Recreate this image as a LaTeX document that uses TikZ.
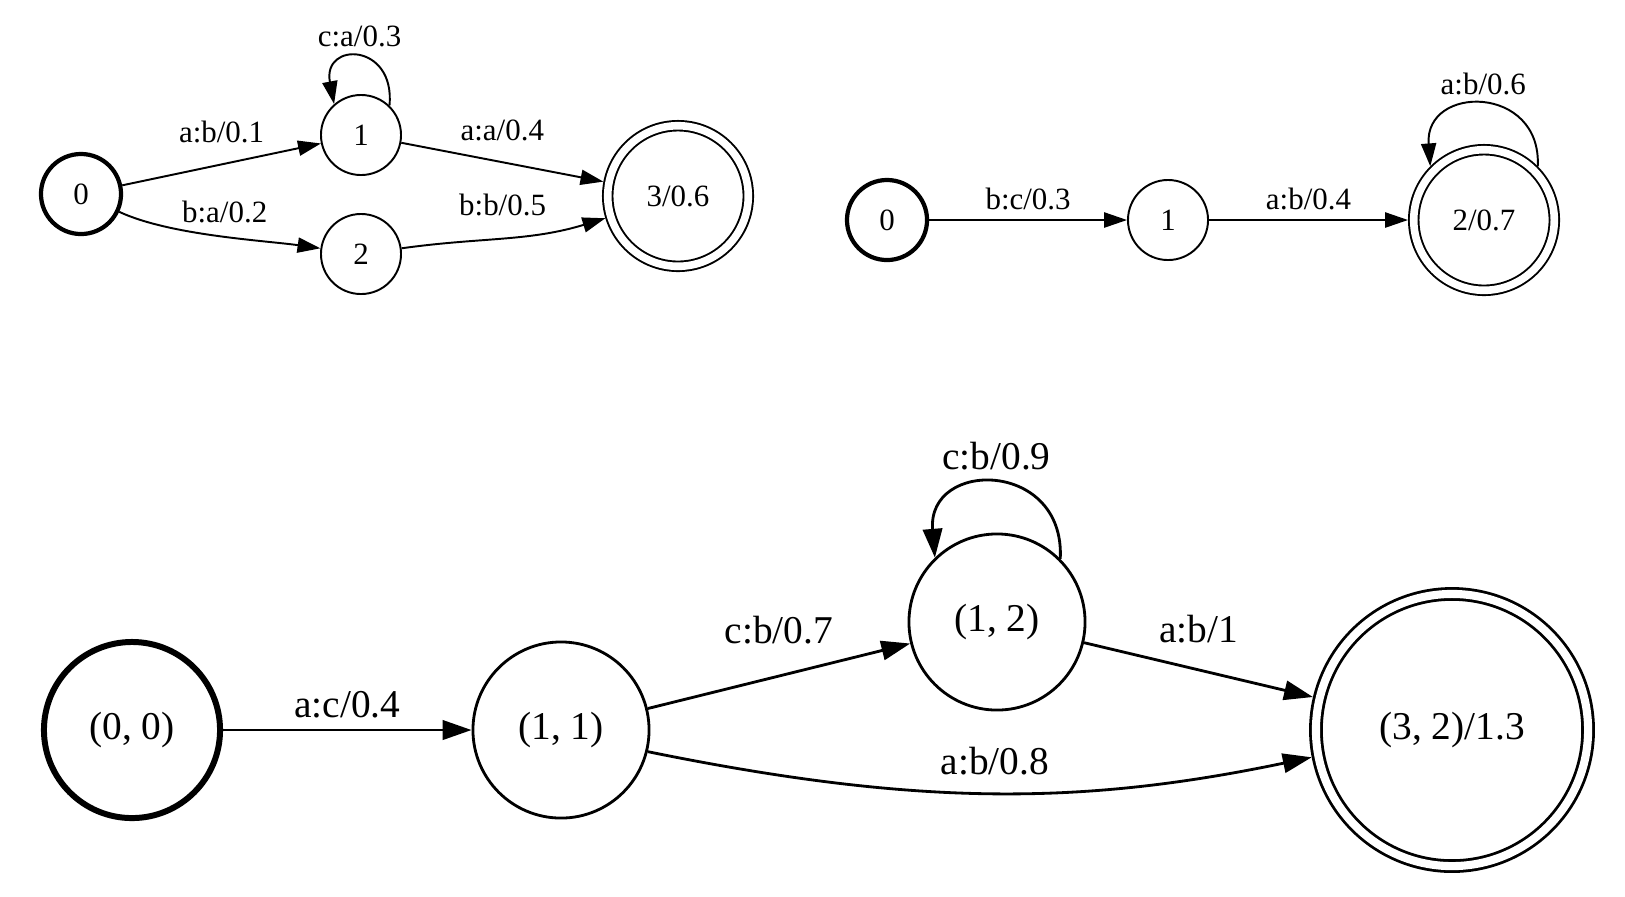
\documentclass[tikz,border=0pt]{standalone}
\usepackage{fontspec}
\setmainfont{Liberation Serif}
\usetikzlibrary{arrows.meta}

\begin{document}
\begin{tikzpicture}[x=0.01cm, y=0.01cm,
    q/.style={draw, circle, line width=0.55pt, minimum size=0.8cm, inner sep=0pt, font=\fontsize{8.8}{10}\selectfont},
    qinit/.style={q, line width=1.2pt},
    qfin/.style={q, double, double distance=0.076cm, outer sep=0.057cm, minimum size=1.405cm},
    arr/.style={-{Triangle[length=6.5pt, width=4.3pt]}, line width=0.55pt},
    lbl/.style={font=\fontsize{8.8}{10}\selectfont, inner sep=0pt},
    bq/.style={draw, circle, line width=0.8pt, minimum size=1.76cm, inner sep=0pt, font=\fontsize{11.2}{13}\selectfont},
    bqinit/.style={bq, line width=1.7pt},
    bqfin/.style={bq, double, double distance=0.081cm, outer sep=0.069cm, minimum size=2.72cm},
    barr/.style={-{Triangle[length=8.2pt, width=5.5pt]}, line width=0.8pt},
    blbl/.style={font=\fontsize{11.2}{13}\selectfont, inner sep=0pt}
]
\useasboundingbox (0,0) rectangle (1625,-896);

% first transducer
\node[qinit] (a0) at (81,-194) {0};
\node[q] (a1) at (361,-135) {1};
\node[q] (a2) at (361,-254) {2};
\node[qfin] (a3) at (678,-196) {3/0.6};

\draw[arr] (a0) -- node[lbl, above=0.2cm] {a:b/0.1} (a1);
\draw[arr] (a0) to[out=-25, in=172, looseness=0.7] node[lbl, pos=0.53, above=0.13cm] {b:a/0.2} (a2);
\draw[arr] (a1) -- node[lbl, above=0.2cm] {a:a/0.4} (a3);
\draw[arr] (a2) to[out=8, in=197] node[lbl, pos=0.49, above=0.21cm] {b:b/0.5} (a3);
\draw[arr] (a1.46) .. controls +(6,63) and +(-12,63) .. (a1.131) node[lbl, midway, above=0.1cm] {c:a/0.3};

% second transducer
\node[qinit] (b0) at (887,-220) {0};
\node[q] (b1) at (1168,-220) {1};
\node[qfin] (b2) at (1484,-220) {2/0.7};

\draw[arr] (b0) -- node[lbl, above=0.09cm] {b:c/0.3} (b1);
\draw[arr] (b1) -- node[lbl, above=0.09cm] {a:b/0.4} (b2);
\draw[arr] (b2.45) .. controls +(4,82) and +(-6,82) .. (b2.135) node[lbl, midway, above=0.09cm] {a:b/0.6};

% composition
\node[bqinit] (c00) at (132,-730) {(0, 0)};
\node[bq] (c11) at (561,-730) {(1, 1)};
\node[bq] (c12) at (997,-622) {(1, 2)};
\node[bqfin] (c32) at (1452,-730) {(3, 2)/1.3};

\draw[barr] (c00) -- node[blbl, above=0.11cm] {a:c/0.4} (c11);
\draw[barr] (c11) -- node[blbl, above=0.31cm] {c:b/0.7} (c12);
\draw[barr] (c12) -- node[blbl, above=0.255cm] {a:b/1} (c32);
\draw[barr] (c11.-14) .. controls +(270,-55) and +(-230,-48) .. (c32.191) node[blbl, midway, above=0.17cm] {a:b/0.8};
\draw[barr] (c12.45) .. controls +(5,99) and +(-8,99) .. (c12.134) node[blbl, midway, above=0.12cm] {c:b/0.9};
\end{tikzpicture}
\end{document}
